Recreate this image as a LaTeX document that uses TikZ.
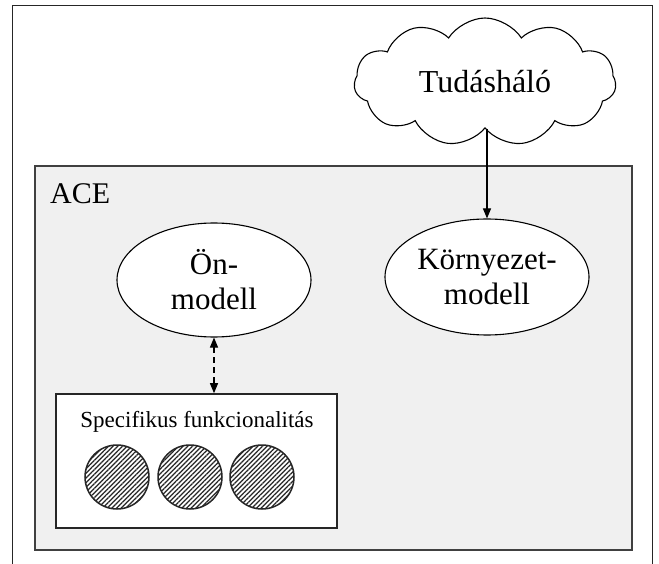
\documentclass[tikz,border=0pt]{standalone}
\usepackage{fontspec}
\setmainfont{Liberation Serif}
\usetikzlibrary{shapes.symbols,shapes.geometric,arrows.meta,patterns.meta}
\begin{document}
\begin{tikzpicture}[x=1pt,y=-1pt,
  frameline/.style={line width=1pt,draw=black!85},
  acebox/.style={draw=black!75,line width=1.6pt,fill=black!6,minimum width=597pt,minimum height=384pt,inner sep=0pt},
  specbox/.style={draw=black!85,line width=1.6pt,fill=white,minimum width=281pt,minimum height=134pt,inner sep=0pt},
  modelell/.style={ellipse,draw=black,line width=1.1pt,fill=white,align=center,inner sep=0pt,font=\fontsize{31}{35}\selectfont},
  hatched/.style={circle,draw=black!85,line width=1.5pt,minimum size=64pt,inner sep=0pt,
    pattern={Lines[angle=45,distance=3.3pt,line width=1.2pt]},pattern color=black!85},
  cloudnode/.style={cloud,draw=black,line width=1.1pt,fill=white,cloud puffs=11,cloud puff arc=115,aspect=2.0,
    inner sep=0pt,font=\fontsize{32}{36}\selectfont},
  arr/.style={-{Triangle[length=10pt,width=8pt]},line width=1.1pt},
  darr/.style={{Triangle[length=10pt,width=8pt]}-{Triangle[length=10pt,width=8pt]},line width=1.1pt,dash pattern=on 6pt off 4pt}
]
\useasboundingbox (0,0) rectangle (659,564);
% outer frame (open at the bottom)
\draw[frameline] (12,564) -- (12,6) -- (652,6) -- (652,564);
% ACE box
\node[acebox] (ace) at (333.5,358) {};
\node[anchor=base west,inner sep=0pt,font=\fontsize{30}{34}\selectfont] (acelabel) at (50,204) {ACE};
% cloud
\node[cloudnode,minimum width=262pt,minimum height=128pt] (cloud) at (485,82) {Tudásháló};
% ellipses
\node[modelell,minimum width=194pt,minimum height=114pt] (omod) at (214,280) {Ön-\\modell};
\node[modelell,minimum width=204pt,minimum height=116pt] (kmod) at (487,277) {Környezet-\\modell};
% specific functionality box
\node[specbox] (spec) at (196.5,461) {};
\node[anchor=base,inner sep=0pt,font=\fontsize{23}{26}\selectfont] (spectext) at (197,427) {Specifikus funkcionalitás};
\node[hatched] (c1) at (117,477) {};
\node[hatched] (c2) at (190,477) {};
\node[hatched] (c3) at (262,477) {};
% connectors
\draw[arr] (cloud.south -| kmod.north) -- (kmod.north);
\draw[darr] (omod.south) -- (omod.south |- spec.north);
\end{tikzpicture}
\end{document}
